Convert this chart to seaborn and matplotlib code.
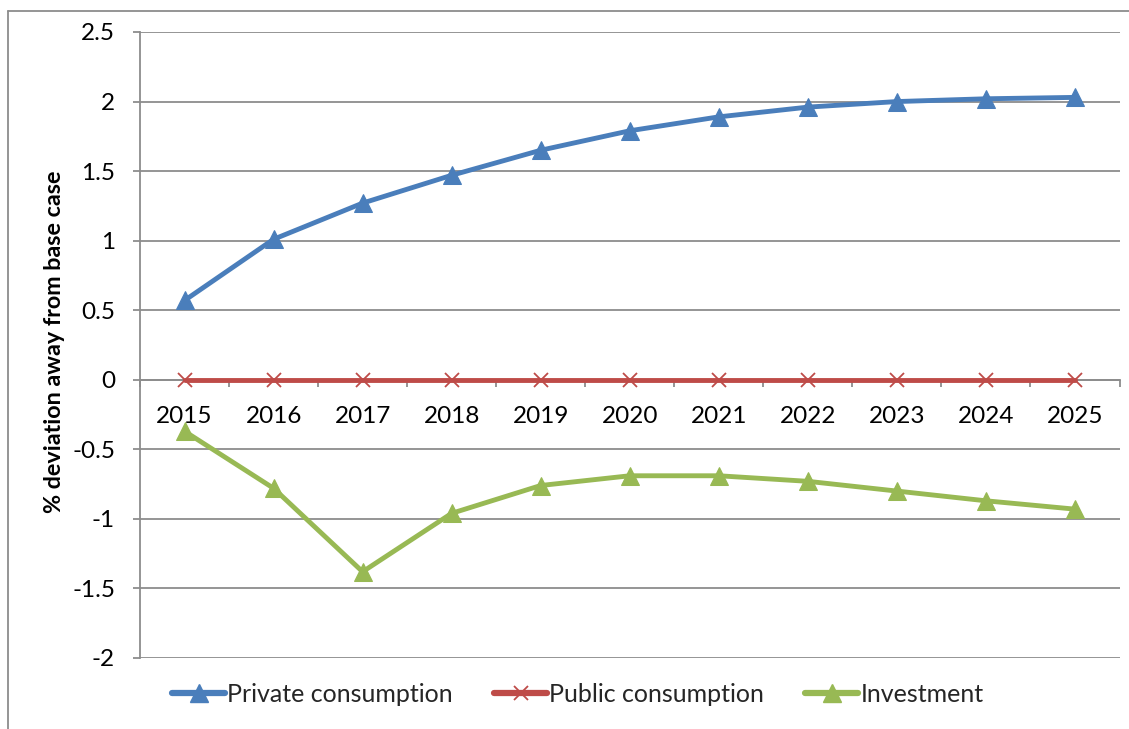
import matplotlib
matplotlib.use("Agg")
import matplotlib.pyplot as plt
import seaborn as sns
import pandas as pd
import numpy as np
from matplotlib.lines import Line2D

years = ["2015", "2016", "2017", "2018", "2019", "2020", "2021", "2022", "2023", "2024", "2025"]
private_consumption = [0.57, 1.01, 1.27, 1.47, 1.65, 1.79, 1.89, 1.96, 2.00, 2.02, 2.03]
public_consumption = [0, 0, 0, 0, 0, 0, 0, 0, 0, 0, 0]
investment = [-0.37, -0.78, -1.38, -0.96, -0.76, -0.69, -0.69, -0.73, -0.80, -0.87, -0.93]

series_names = ["Private consumption", "Public consumption", "Investment"]
colors = ["#4A7EBB", "#BE4B48", "#98B954"]
markers = ["^", "x", "^"]

sns.set_theme(style="white")
plt.rcParams['font.family'] = ['Lato', 'DejaVu Sans']

fig = plt.figure(figsize=(11.29, 7.29), dpi=100)
ax = fig.add_axes([140/1129, 1-658/729, 979.5/1129, (658-32)/729])

idx = np.arange(len(years))
all_vals = [private_consumption, public_consumption, investment]
for name, vals, c, m in zip(series_names, all_vals, colors, markers):
    df = pd.DataFrame({"x": idx, "y": vals})
    if m == "x":
        sns.lineplot(data=df, x="x", y="y", ax=ax, color=c, lw=3.5, marker="x",
                     markersize=10, markeredgewidth=1.3, markeredgecolor=c, zorder=3)
    else:
        sns.lineplot(data=df, x="x", y="y", ax=ax, color=c, lw=3.5, marker="^",
                     markersize=13, markeredgecolor=c, markerfacecolor=c, zorder=3)

ax.set_xlim(-0.5, 10.5)
ax.set_ylim(-2, 2.5)
ax.set_yticks(np.arange(-2, 2.51, 0.5))
ax.set_yticklabels(["-2", "-1.5", "-1", "-0.5", "0", "0.5", "1", "1.5", "2", "2.5"])
ax.yaxis.grid(True, color="#8C8C8C", lw=1.3)
ax.xaxis.grid(False)
ax.set_axisbelow(True)

ax.spines['top'].set_visible(False)
ax.spines['right'].set_visible(False)
ax.spines['left'].set_color("#8C8C8C")
ax.spines['left'].set_linewidth(1.3)
ax.spines['bottom'].set_position(('data', 0))
ax.spines['bottom'].set_color("#8C8C8C")
ax.spines['bottom'].set_linewidth(1.3)

ax.set_xticks(idx)
ax.set_xticklabels(years)
ax.set_xticks(np.arange(-0.5, 11, 1), minor=True)
ax.tick_params(axis='x', which='major', length=0, pad=19, labelsize=17.5, colors='black')
ax.tick_params(axis='x', which='minor', length=5, width=1.3, color="#8C8C8C", direction='out', bottom=True)
ax.tick_params(axis='y', which='major', length=5, width=1.3, color="#8C8C8C", direction='out',
               left=True, pad=13, labelsize=17.5, labelcolor='black')
for lab in ax.get_xticklabels():
    lab.set_color('black')

ax.set_xlabel("")
ax.set_ylabel("")
fig.text(55/1129, 1-342/729, "% deviation away from base case", rotation=90, ha='center', va='center',
         fontsize=16.8, fontweight='bold', color='black')

handles = []
for name, c, m in zip(series_names, colors, markers):
    if m == "x":
        h = Line2D([], [], color=c, lw=4.5, marker="x", markersize=10, markeredgewidth=1.3, solid_capstyle='round')
    else:
        h = Line2D([], [], color=c, lw=4.5, marker="^", markersize=13, markerfacecolor=c, markeredgecolor=c, solid_capstyle='round')
    handles.append(h)
fig.legend(handles, series_names, loc='center', bbox_to_anchor=(578/1129, 1-694/729), ncol=3,
           frameon=False, fontsize=18, handlelength=2.1, handletextpad=0.1, columnspacing=1.65)

# figure border (left and top)
fig.add_artist(Line2D([8/1129, 8/1129], [0, 1-11/729], transform=fig.transFigure, color="#8C8C8C", lw=1.3))
fig.add_artist(Line2D([8/1129, 1], [1-11/729, 1-11/729], transform=fig.transFigure, color="#8C8C8C", lw=1.3))

fig.savefig("out.png", dpi=100)
